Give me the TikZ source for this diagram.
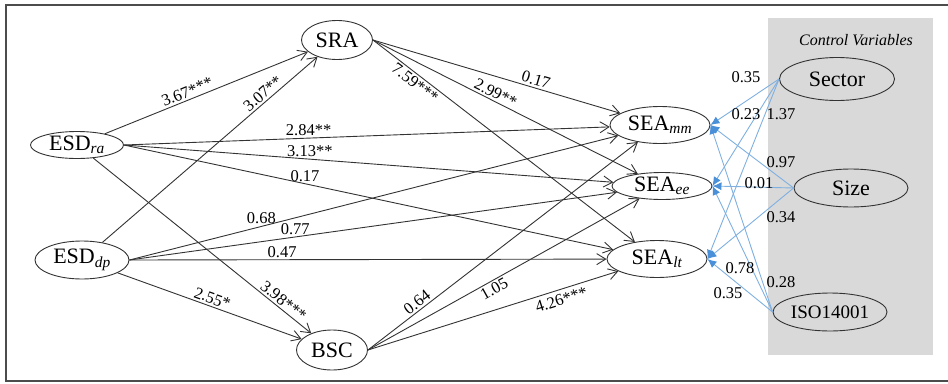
\documentclass[tikz,border=0pt]{standalone}
\usepackage{fontspec}
\setmainfont{Liberation Serif}
\usetikzlibrary{arrows.meta,shapes.geometric}

\definecolor{boxgray}{HTML}{D9D9D9}
\definecolor{ctrlblue}{HTML}{7FB0E0}
\definecolor{tipblue}{HTML}{4A90D9}
\newcommand{\lowidx}[1]{\textsubscript{\itshape #1}}

\tikzset{
  latent/.style={draw=black!80, ellipse, inner sep=0pt, line width=0.9pt,
    font=\fontsize{22}{24}\selectfont},
  lab/.style={font=\fontsize{16.5}{18}\selectfont, inner sep=2pt},
  path/.style={draw=black!80, line width=0.9pt, -{Straight Barb[length=9pt,width=11pt]}},
  ctrl/.style={draw=ctrlblue, line width=0.9pt, -{Latex[length=9pt,width=8pt,color=tipblue]}}
}

\begin{document}
\begin{tikzpicture}[x=1pt,y=-1pt]
\useasboundingbox (0,0) rectangle (948,383);
% frame and control panel
\fill[boxgray] (768,18) rectangle (933,355);
\draw[black!70, line width=1.5pt] (960,5) -- (6,5) -- (6,381) -- (960,381);
\node[font=\fontsize{16}{18}\selectfont\itshape] (ctitle) at (856,40) {Control Variables};

% latent variables
\node[latent, minimum width=93pt, minimum height=27pt] (ra) at (77,145) {ESD\lowidx{ra}};
\node[latent, minimum width=94pt, minimum height=38pt] (dp) at (82,260) {ESD\lowidx{dp}};
\node[latent, minimum width=71pt, minimum height=39pt] (sra) at (337,40) {SRA};
\node[latent, minimum width=71pt, minimum height=40pt] (bsc) at (332,350) {BSC};
\node[latent, minimum width=100pt, minimum height=37pt] (mm) at (660,125) {SEA\lowidx{mm}};
\node[latent, minimum width=100pt, minimum height=27pt] (ee) at (662,186) {SEA\lowidx{ee}};
\node[latent, minimum width=100pt, minimum height=37pt] (lt) at (657,259) {SEA\lowidx{lt}};
\node[latent, minimum width=115pt, minimum height=43pt] (sec) at (837,79) {Sector};
\node[latent, minimum width=114pt, minimum height=38pt] (size) at (851,188) {Size};
\node[latent, minimum width=114pt, minimum height=38pt, font=\fontsize{19}{21}\selectfont] (iso) at (830,312) {ISO14001};

% paths
\draw[path] (ra) -- node[lab, sloped, above, pos=0.42] {3.67***} (sra);
\draw[path] (dp) -- node[lab, sloped, above, pos=0.77] {3.07**} (sra);
\draw[path] (ra.east) -- node[lab, above, pos=0.38] {2.84**} (mm);
\draw[path] (ra.east) -- node[lab, above, pos=0.38] {3.13**} (ee);
\draw[path] (ra.east) -- node[lab, above, pos=0.37] {0.17} (lt);
\draw[path] (ra) -- node[lab, sloped, above, pos=0.85] {3.98***} (bsc);
\draw[path] (dp.east) -- node[lab, above, pos=0.27] {0.68} (mm);
\draw[path] (dp.east) -- node[lab, above, pos=0.34] {0.77} (ee);
\draw[path] (dp.east) -- node[lab, above, pos=0.32] {0.47} (lt);
\draw[path] (dp) -- node[lab, sloped, above, pos=0.5] {2.55*} (bsc);
\draw[path] (sra.east) -- node[lab, sloped, above, pos=0.65] {0.17} (mm);
\draw[path] (sra.east) -- node[lab, sloped, above, pos=0.45] {2.99**} (ee);
\draw[path] (sra.east) -- node[lab, sloped, below, pos=0.18] {7.59***} (lt);
\draw[path] (bsc.east) -- node[lab, sloped, above, pos=0.2] {0.64} (mm);
\draw[path] (bsc.east) -- node[lab, sloped, below, pos=0.45] {1.05} (ee);
\draw[path] (bsc.east) -- node[lab, sloped, below=2pt, pos=0.76] {4.26***} (lt);

% control paths
\foreach \c in {sec,size,iso}
  \foreach \t in {mm,ee,lt}
    \draw[ctrl] (\c.west) -- (\t.east);
\node[lab] (c1) at (746,77) {0.35};
\node[lab] (c2) at (746,114) {0.23};
\node[lab] (c3) at (781,114) {1.37};
\node[lab] (c4) at (781,162) {0.97};
\node[lab] (c5) at (759,183) {0.01};
\node[lab] (c6) at (781,217) {0.34};
\node[lab] (c7) at (740,268) {0.78};
\node[lab] (c8) at (781,282) {0.28};
\node[lab] (c9) at (728,293) {0.35};
\end{tikzpicture}
\end{document}
